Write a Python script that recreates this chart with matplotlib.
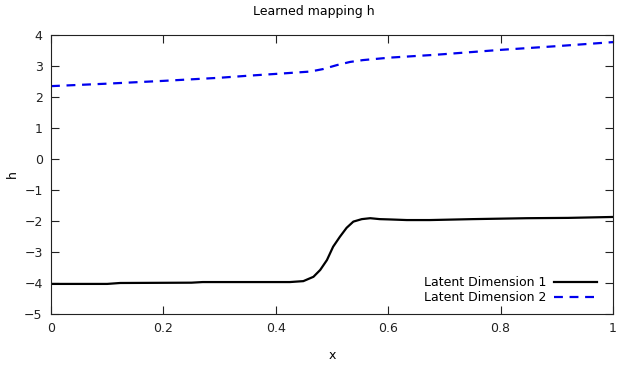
import numpy as np
import matplotlib
matplotlib.use("Agg")
import matplotlib.pyplot as plt

# values
x1 = [0.0, 0.10, 0.123, 0.25, 0.27, 0.35, 0.407, 0.425, 0.449, 0.467, 0.479,
      0.491, 0.502, 0.514, 0.526, 0.538, 0.553, 0.568, 0.585, 0.603, 0.633,
      0.674, 0.75, 0.847, 0.92, 1.0]
dim1 = [-4.03, -4.03, -4.0, -3.99, -3.97, -3.97, -3.97, -3.97, -3.94, -3.80, -3.58,
        -3.26, -2.83, -2.51, -2.22, -2.02, -1.94, -1.91, -1.94, -1.95, -1.97,
        -1.97, -1.94, -1.91, -1.90, -1.87]

x2 = [0.0, 0.1, 0.2, 0.3, 0.354, 0.413, 0.461, 0.484, 0.509, 0.532, 0.555,
      0.603, 0.674, 0.698, 0.8, 0.9, 1.0]
dim2 = [2.35, 2.43, 2.52, 2.62, 2.69, 2.76, 2.82, 2.90, 3.03, 3.13, 3.19,
        3.27, 3.35, 3.38, 3.52, 3.64, 3.77]

xt = [0, 0.2, 0.4, 0.6, 0.8, 1]
xtl = ["0", "0.2", "0.4", "0.6", "0.8", "1"]
yt = list(range(-5, 5))

plt.rcParams['font.family'] = ['DejaVu Sans']
plt.rcParams['font.size'] = 9

fig = plt.figure(figsize=(6.27, 3.66), dpi=100)
ax = fig.add_axes([0.0813, 0.1421, 0.8964, 0.7623])

ax.plot(x1, dim1, color='black', lw=1.6, label='Latent Dimension 1',
        solid_joinstyle='round')
ax.plot(x2, dim2, color='#0000ee', lw=1.6, ls=(0, (4, 3)), label='Latent Dimension 2')

ax.set_xlim(0, 1)
ax.set_ylim(-5, 4)
ax.set_xticks(xt)
ax.set_xticklabels(xtl)
ax.set_yticks(yt)
ax.tick_params(direction='in', top=True, right=True, length=6, width=0.8,
               colors='#222222', labelcolor='#222222', pad=6)
for s in ax.spines.values():
    s.set_linewidth(0.8)
    s.set_color('#222222')

ax.set_xlabel('x', labelpad=10)
ax.set_ylabel('h', labelpad=4)
fig.suptitle('Learned mapping h', y=0.985, fontsize=9)

ax.legend(loc='lower right', frameon=False, markerfirst=False, handlelength=3.5,
          borderaxespad=0.4, labelspacing=0.15, handletextpad=0.6,
          bbox_to_anchor=(0.99, 0.0))

fig.savefig('out.png', dpi=100)
